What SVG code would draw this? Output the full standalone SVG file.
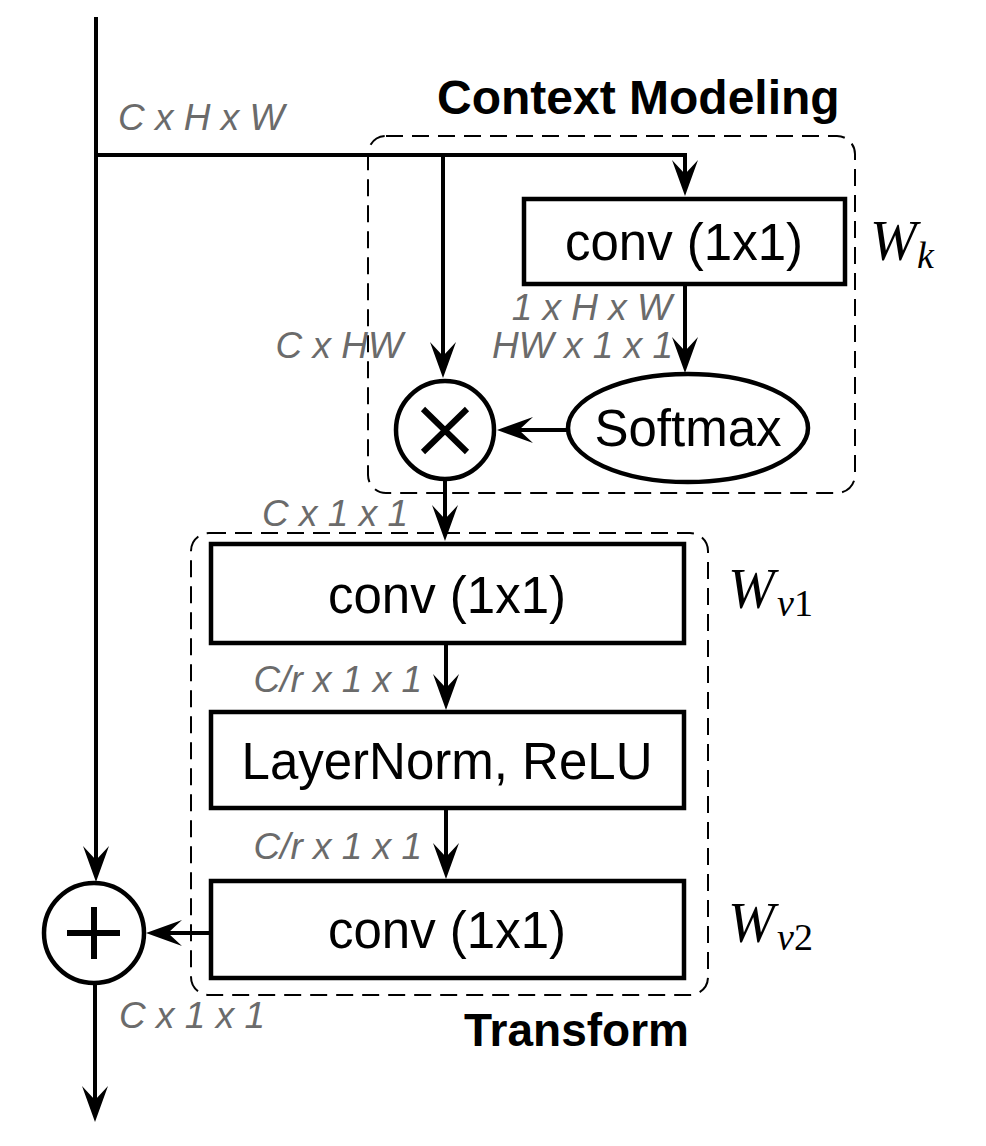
<svg xmlns="http://www.w3.org/2000/svg" width="986" height="1146" viewBox="0 0 986 1146">
<style>
.box{fill:#fff;stroke:#000;stroke-width:4.5}
.grp{fill:none;stroke:#000;stroke-width:2;stroke-dasharray:17 9}
.ln{fill:none;stroke:#000;stroke-width:4}
.lbl{font-family:"Liberation Sans",Arial,sans-serif;font-size:51px;fill:#000;text-anchor:middle}
.dim{font-family:"Liberation Sans",Arial,sans-serif;font-size:37px;font-style:italic;fill:#6b6b6b}
.ttl{font-family:"Liberation Sans",Arial,sans-serif;font-weight:bold;fill:#000}
.math{font-family:"Liberation Serif","Times New Roman",serif;font-style:italic;fill:#000}
.sym{stroke:#000;stroke-width:6;fill:none}
</style>
<defs>
<marker id="arr" markerUnits="userSpaceOnUse" markerWidth="40" markerHeight="32" viewBox="0 -16 40 32" refX="16" refY="0" orient="auto">
<path d="M36,0 L0,-13 L14,0 L0,13 Z" fill="#000"/>
</marker>
</defs>

<g id="group-context">
<rect class="grp" x="368" y="136" width="487" height="357" rx="18"/>
<text class="ttl" x="437" y="114" font-size="48">Context Modeling</text>
</g>
<g id="group-transform">
<rect class="grp" x="191" y="533" width="517" height="462" rx="18"/>
<text class="ttl" x="464" y="1046" font-size="46">Transform</text>
</g>

<g id="connectors">
<path class="ln" d="M96,17 V862" marker-end="url(#arr)"/>
<path class="ln" d="M96,155 H685 V176" marker-end="url(#arr)"/>
<path class="ln" d="M443,155 V358" marker-end="url(#arr)"/>
<path class="ln" d="M685,284 V353" marker-end="url(#arr)"/>
<path class="ln" d="M568,430 H517" marker-end="url(#arr)"/>
<path class="ln" d="M445,480 V521" marker-end="url(#arr)"/>
<path class="ln" d="M446,643 V690" marker-end="url(#arr)"/>
<path class="ln" d="M446,808 V859" marker-end="url(#arr)"/>
<path class="ln" d="M211,933 H166" marker-end="url(#arr)"/>
<path class="ln" d="M95,983 V1102" marker-end="url(#arr)"/>
</g>

<g id="node-conv-k">
<rect class="box" x="524" y="199" width="321" height="85"/>
<text class="lbl" x="684" y="260">conv (1x1)</text>
</g>
<g id="label-wk">
<text class="math" x="870" y="260" font-size="56">W</text>
<text class="math" x="917" y="268" font-size="38">k</text>
</g>

<g id="node-softmax">
<ellipse class="box" cx="688" cy="428" rx="120" ry="54"/>
<text class="lbl" x="688" y="446">Softmax</text>
</g>

<g id="node-mult">
<circle class="box" cx="445" cy="430" r="49"/>
<path class="sym" d="M423,409 L467,452 M467,409 L423,452"/>
</g>

<g id="node-conv-v1">
<rect class="box" x="211" y="544" width="473" height="99"/>
<text class="lbl" x="447" y="613">conv (1x1)</text>
</g>
<g id="label-wv1">
<text class="math" x="728" y="608" font-size="56">W</text>
<text class="math" x="777" y="616" font-size="38">v<tspan font-style="normal">1</tspan></text>
</g>

<g id="node-ln">
<rect class="box" x="211" y="712" width="473" height="96"/>
<text class="lbl" x="447" y="779">LayerNorm, ReLU</text>
</g>

<g id="node-conv-v2">
<rect class="box" x="211" y="881" width="473" height="97"/>
<text class="lbl" x="447" y="948">conv (1x1)</text>
</g>
<g id="label-wv2">
<text class="math" x="728" y="942" font-size="56">W</text>
<text class="math" x="777" y="950" font-size="38">v<tspan font-style="normal">2</tspan></text>
</g>

<g id="node-add">
<circle class="box" cx="94" cy="933" r="50"/>
<path class="sym" d="M67,933 H120 M94,907 V959"/>
</g>

<g id="dims">
<text class="dim" x="118" y="130">C x H x W</text>
<text class="dim" x="403" y="358" text-anchor="end">C x HW</text>
<text class="dim" x="672" y="320" text-anchor="end">1 x H x W</text>
<text class="dim" x="673" y="358" text-anchor="end">HW x 1 x 1</text>
<text class="dim" x="408" y="526" text-anchor="end">C x 1 x 1</text>
<text class="dim" x="422" y="692" text-anchor="end">C/r x 1 x 1</text>
<text class="dim" x="422" y="859" text-anchor="end">C/r x 1 x 1</text>
<text class="dim" x="119" y="1028">C x 1 x 1</text>
</g>
</svg>
